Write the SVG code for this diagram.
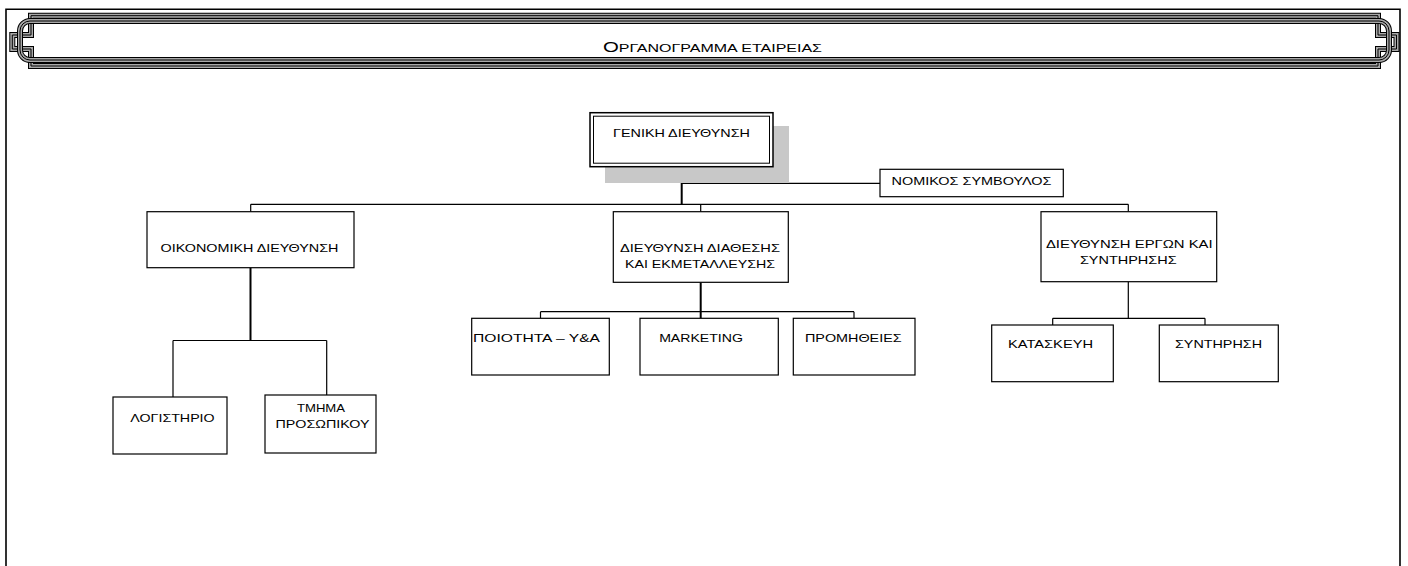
<svg xmlns="http://www.w3.org/2000/svg" xmlns:xlink="http://www.w3.org/1999/xlink" width="1408" height="566" viewBox="0 0 1408 566">
<style>
.box{fill:#fff;stroke:#000;stroke-width:1.2}
.conn{fill:none;stroke:#000;stroke-width:1.2}
.trunk{stroke-width:2}
text{font-family:"Liberation Sans",Arial,sans-serif;font-size:11.5px;fill:#000;text-anchor:middle}
.ba{fill:none;stroke:#000;stroke-width:6}
.bb{fill:none;stroke:#a8a8a8;stroke-width:4}
.bc{fill:none;stroke:#000;stroke-width:1}
</style>
<defs>
<path id="plate" d="M31,15.7 H1378 V35 H1396.5 V49 H1378 V66 H31 V49 H12.3 V35 H31 Z"/>
<rect id="scroll" x="20" y="21" width="1369" height="39" rx="10" ry="10"/>
</defs>
<rect x="0" y="0" width="1408" height="566" fill="#fff"/>
<g id="frame">
<path d="M6,566 V9.3 H1400 V566" fill="none" stroke="#000" stroke-width="1.6"/>
</g>
<g id="banner">
<use xlink:href="#plate" class="ba"/>
<use xlink:href="#plate" class="bb"/>
<use xlink:href="#plate" class="bc"/>
<use xlink:href="#scroll" class="ba"/>
<use xlink:href="#scroll" class="bb"/>
<use xlink:href="#scroll" class="bc"/>
<text x="712.5" y="51.5" textLength="219" lengthAdjust="spacingAndGlyphs" style="font-size:11px"><tspan style="font-size:14px">Ο</tspan>ΡΓΑΝΟΓΡΑΜΜΑ ΕΤΑΙΡΕΙΑΣ</text>
</g>
<g id="connectors">
<path class="conn trunk" d="M681.7,166.7 V204.3"/>
<path class="conn" d="M681.7,183.3 H880"/>
<path class="conn" d="M250.7,204.3 H1128.3 M250.7,204.3 V211.7 M700.7,204.3 V211.7 M1128.3,204.3 V211.7"/>
<path class="conn trunk" d="M250.5,267.7 V340.5"/>
<path class="conn" d="M173,340.5 H326.7 M173,340.5 V397 M326.7,340.5 V395"/>
<path class="conn trunk" d="M700.7,282.3 V318.3"/>
<path class="conn" d="M540.5,311.7 H854 M540.5,311.7 V318.3 M854,311.7 V318.3"/>
<path class="conn" d="M1128.3,281.7 V318.3 M1052.7,318.3 H1205 M1052.7,318.3 V325 M1205,318.3 V325"/>
</g>
<g id="n_geniki">
<rect x="605" y="126" width="184" height="57" fill="#c8c8c8"/>
<rect x="590" y="112.7" width="183" height="54" fill="#fff" stroke="#000" stroke-width="1.5"/>
<rect x="593.5" y="116.2" width="176" height="47" fill="none" stroke="#000" stroke-width="1"/>
<text x="681.5" y="137" textLength="137" lengthAdjust="spacingAndGlyphs">ΓΕΝΙΚΗ ΔΙΕΥΘΥΝΣΗ</text>
</g>
<g id="n_nomikos">
<rect class="box" x="880" y="169.3" width="183.3" height="27.4"/>
<text x="971.5" y="184.5" textLength="160" lengthAdjust="spacingAndGlyphs">ΝΟΜΙΚΟΣ ΣΥΜΒΟΥΛΟΣ</text>
</g>
<g id="n_oikonomiki">
<rect class="box" x="147" y="211.7" width="207" height="56"/>
<text x="249.5" y="251.7" textLength="178" lengthAdjust="spacingAndGlyphs">ΟΙΚΟΝΟΜΙΚΗ ΔΙΕΥΘΥΝΣΗ</text>
</g>
<g id="n_diathesis">
<rect class="box" x="613.3" y="211.7" width="175" height="70.6"/>
<text x="700" y="252.3" textLength="160" lengthAdjust="spacingAndGlyphs">ΔΙΕΥΘΥΝΣΗ ΔΙΑΘΕΣΗΣ</text>
<text x="700" y="268.3" textLength="150" lengthAdjust="spacingAndGlyphs">ΚΑΙ ΕΚΜΕΤΑΛΛΕΥΣΗΣ</text>
</g>
<g id="n_ergon">
<rect class="box" x="1041" y="211.7" width="175.7" height="70"/>
<text x="1129.3" y="248.3" textLength="166.7" lengthAdjust="spacingAndGlyphs">ΔΙΕΥΘΥΝΣΗ ΕΡΓΩΝ ΚΑΙ</text>
<text x="1128.3" y="264" textLength="96.7" lengthAdjust="spacingAndGlyphs">ΣΥΝΤΗΡΗΣΗΣ</text>
</g>
<g id="n_poiotita">
<rect class="box" x="471.7" y="318.3" width="137.6" height="56.7"/>
<text x="536.5" y="341.7" textLength="127" lengthAdjust="spacingAndGlyphs">ΠΟΙΟΤΗΤΑ – Υ&amp;Α</text>
</g>
<g id="n_marketing">
<rect class="box" x="640" y="318.3" width="138.3" height="56.7"/>
<text x="701" y="341.7" textLength="83.7" lengthAdjust="spacingAndGlyphs">MARKETING</text>
</g>
<g id="n_promitheies">
<rect class="box" x="793.3" y="318.3" width="121.7" height="56.7"/>
<text x="853.3" y="341.7" textLength="96.7" lengthAdjust="spacingAndGlyphs">ΠΡΟΜΗΘΕΙΕΣ</text>
</g>
<g id="n_kataskevi">
<rect class="box" x="991.7" y="325" width="121.6" height="56.7"/>
<text x="1050.5" y="348.3" textLength="85" lengthAdjust="spacingAndGlyphs">ΚΑΤΑΣΚΕΥΗ</text>
</g>
<g id="n_syntirisi">
<rect class="box" x="1159.3" y="325" width="119" height="56.7"/>
<text x="1218.5" y="348.3" textLength="87" lengthAdjust="spacingAndGlyphs">ΣΥΝΤΗΡΗΣΗ</text>
</g>
<g id="n_logistirio">
<rect class="box" x="113" y="397" width="114" height="57"/>
<text x="172.5" y="422" textLength="84.3" lengthAdjust="spacingAndGlyphs">ΛΟΓΙΣΤΗΡΙΟ</text>
</g>
<g id="n_prosopiko">
<rect class="box" x="265" y="395" width="111" height="58"/>
<text x="321" y="411.7" textLength="48" lengthAdjust="spacingAndGlyphs">ΤΜΗΜΑ</text>
<text x="322.5" y="427.7" textLength="94" lengthAdjust="spacingAndGlyphs">ΠΡΟΣΩΠΙΚΟΥ</text>
</g>
</svg>
